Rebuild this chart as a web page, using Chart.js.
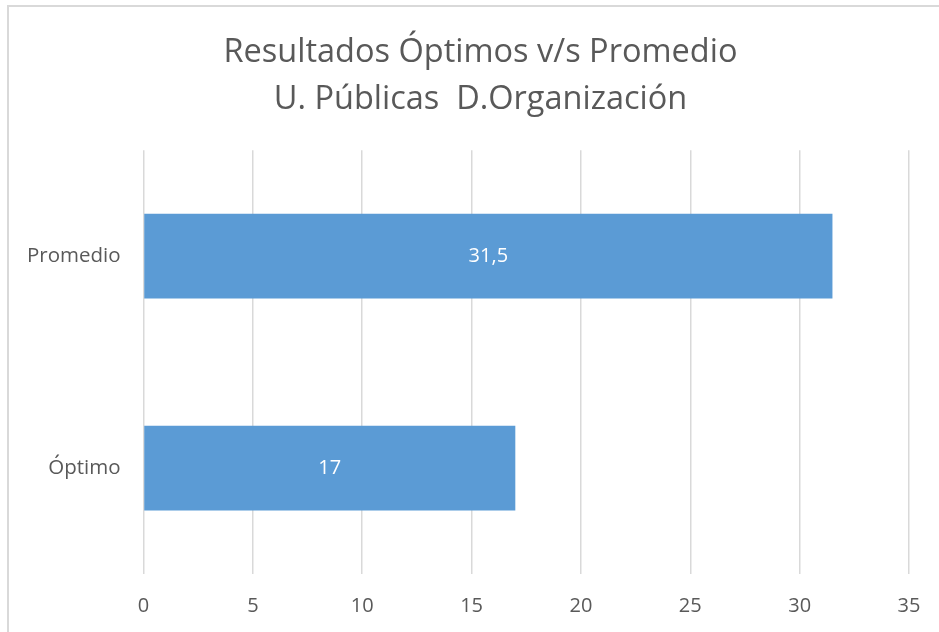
<!DOCTYPE html>
<html>
<head>
<meta charset="utf-8">
<script src="https://cdn.jsdelivr.net/npm/chart.js@4/dist/chart.umd.min.js"></script>
<style>
  body { margin: 0; background: #fff; overflow: hidden; }
  #frame { position: absolute; left: 7px; top: 5px; width: 1000px; height: 700px; border-left: 2px solid #d9d9d9; border-top: 2px solid #d9d9d9; }
  #wrap { position: absolute; left: 0; top: 0; width: 961px; height: 632px; }
</style>
</head>
<body>
<div id="frame"></div>
<div id="wrap"><canvas id="chart"></canvas></div>
<script>
const categories = ['Promedio', 'Óptimo'];
const values = [31.5, 17];
const xTicks = [0, 5, 10, 15, 20, 25, 30, 35];
const titleLines = ['Resultados Óptimos v/s Promedio', 'U. Públicas  D.Organización'];

const FONT = '"Open Sans", sans-serif';
const GRAY = '#595959';

// value labels drawn in the middle of each bar, with decimal comma
const barLabels = {
    id: 'barLabels',
    afterDatasetsDraw(chart) {
        const ctx = chart.ctx;
        const meta = chart.getDatasetMeta(0);
        ctx.save();
        ctx.fillStyle = '#ffffff';
        ctx.font = '20px ' + FONT;
        ctx.textAlign = 'center';
        ctx.textBaseline = 'middle';
        meta.data.forEach((bar, i) => {
            const x = (bar.x + bar.base) / 2;
            ctx.fillText(String(values[i]).replace('.', ','), x, bar.y);
        });
        ctx.restore();
    },
};

new Chart(document.getElementById('chart'), {
    type: 'bar',
    data: {
        labels: categories,
        datasets: [
            {
                data: values,
                backgroundColor: '#5b9bd5',
                barPercentage: 0.8,
                categoryPercentage: 0.5,
            },
        ],
    },
    options: {
        indexAxis: 'y',
        responsive: true,
        maintainAspectRatio: false,
        animation: false,
        layout: { padding: 0 },
        plugins: {
            legend: { display: false },
            tooltip: { enabled: false },
            title: {
                display: true,
                text: titleLines,
                color: GRAY,
                font: { family: FONT, size: 32.5, weight: 'normal', lineHeight: 1.45 },
                padding: { top: 29, bottom: 27 },
            },
        },
        scales: {
            x: {
                min: 0,
                max: 35,
                afterBuildTicks(scale) {
                    scale.ticks = xTicks.map((v) => ({ value: v }));
                },
                afterFit(scale) {
                    scale.height = 58;
                },
                grid: { color: '#d9d9d9', lineWidth: 1.5, drawTicks: false },
                border: { display: false },
                ticks: { color: GRAY, font: { family: FONT, size: 20 }, padding: 20 },
            },
            y: {
                afterFit(scale) {
                    scale.width = 143.5;
                },
                grid: { display: false, drawTicks: false },
                border: { display: false },
                ticks: { color: GRAY, font: { family: FONT, size: 20.5 }, padding: 23 },
            },
            // empty right-hand spacer so the plot ends where the reference does
            spacer: {
                type: 'category',
                axis: 'y',
                position: 'right',
                afterFit(scale) {
                    scale.width = 52;
                },
                grid: { display: false, drawTicks: false },
                border: { display: false },
                ticks: { display: false },
            },
        },
    },
    plugins: [barLabels],
});
</script>
</body>
</html>
